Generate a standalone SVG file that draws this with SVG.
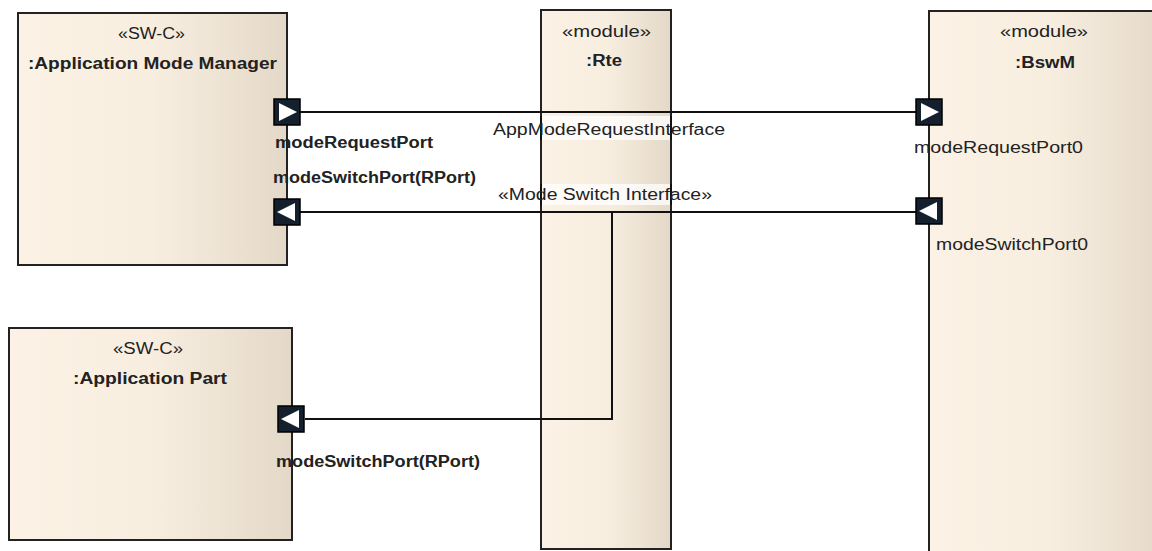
<svg xmlns="http://www.w3.org/2000/svg" width="1152" height="551" viewBox="0 0 1152 551">
  <defs>
    <linearGradient id="fill" x1="0" y1="0" x2="1" y2="0">
      <stop offset="0" stop-color="#fbf1e4"/>
      <stop offset="0.5" stop-color="#f8eee0"/>
      <stop offset="1" stop-color="#e4d9c8"/>
    </linearGradient>
    <g id="portR">
      <rect x="0" y="0" width="26" height="26" fill="#15202e" stroke="#000" stroke-width="1.5"/>
      <polygon points="5,4 5,22 23,13" fill="#fff"/>
    </g>
    <g id="portL">
      <rect x="0" y="0" width="26" height="26" fill="#15202e" stroke="#000" stroke-width="1.5"/>
      <polygon points="21,4 21,22 3,13" fill="#fff"/>
    </g>
  </defs>
  <style>
    .box { fill: url(#fill); stroke: #222; stroke-width: 2; }
    .t { font-family: "Liberation Sans", Arial, sans-serif; font-size: 16px; fill: #222; }
    .b { font-weight: bold; }
    .conn { fill: none; stroke: #111; stroke-width: 2; }
    .lblbg { fill: #fff; fill-opacity: 0.75; }
  </style>
  <rect width="1152" height="551" fill="#fff"/>

  <g id="rte">
    <rect class="box" x="541" y="10" width="130" height="539"/>
    <text class="t" x="562" y="37" textLength="89" lengthAdjust="spacingAndGlyphs">«module»</text>
    <text class="t b" x="586" y="66" textLength="36" lengthAdjust="spacingAndGlyphs">:Rte</text>
  </g>

  <g id="bswm">
    <rect class="box" x="929" y="11" width="240" height="560"/>
    <text class="t" x="1000" y="37" textLength="88" lengthAdjust="spacingAndGlyphs">«module»</text>
    <text class="t b" x="1015" y="68" textLength="60" lengthAdjust="spacingAndGlyphs">:BswM</text>
  </g>

  <g id="app-mode-manager">
    <rect class="box" x="18" y="13" width="269" height="252"/>
    <text class="t" x="118" y="39" textLength="67" lengthAdjust="spacingAndGlyphs">«SW-C»</text>
    <text class="t b" x="28" y="69" textLength="249" lengthAdjust="spacingAndGlyphs">:Application Mode Manager</text>
  </g>

  <g id="app-part">
    <rect class="box" x="9" y="328" width="283" height="212"/>
    <text class="t" x="113" y="354" textLength="70" lengthAdjust="spacingAndGlyphs">«SW-C»</text>
    <text class="t b" x="73" y="384" textLength="154" lengthAdjust="spacingAndGlyphs">:Application Part</text>
  </g>

  <g id="connectors">
    <line class="conn" x1="300" y1="112" x2="916" y2="112"/>
    <line class="conn" x1="300" y1="212" x2="916" y2="212"/>
    <polyline class="conn" points="612,212 612,419 305,419"/>
    <rect class="lblbg" x="490" y="116" width="238" height="24"/>
    <rect class="lblbg" x="495" y="184" width="220" height="21"/>
    <line class="conn" x1="541" y1="116" x2="541" y2="140"/>
    <line class="conn" x1="671" y1="116" x2="671" y2="140"/>
    <line class="conn" x1="541" y1="184" x2="541" y2="205"/>
    <line class="conn" x1="671" y1="184" x2="671" y2="205"/>
    <text class="t" x="493" y="135" textLength="232" lengthAdjust="spacingAndGlyphs">AppModeRequestInterface</text>
    <text class="t" x="498" y="200" textLength="214" lengthAdjust="spacingAndGlyphs">«Mode Switch Interface»</text>
  </g>

  <g id="port-amm-request">
    <use href="#portR" x="274" y="99"/>
    <text class="t b" x="275" y="148" textLength="158" lengthAdjust="spacingAndGlyphs">modeRequestPort</text>
  </g>
  <g id="port-amm-switch">
    <use href="#portL" x="274" y="199"/>
    <text class="t b" x="273" y="183" textLength="203" lengthAdjust="spacingAndGlyphs">modeSwitchPort(RPort)</text>
  </g>
  <g id="port-ap-switch">
    <use href="#portL" x="278" y="406"/>
    <text class="t b" x="276" y="467" textLength="204" lengthAdjust="spacingAndGlyphs">modeSwitchPort(RPort)</text>
  </g>
  <g id="port-bswm-request">
    <use href="#portR" x="916" y="99"/>
    <text class="t" x="914" y="153" textLength="169" lengthAdjust="spacingAndGlyphs">modeRequestPort0</text>
  </g>
  <g id="port-bswm-switch">
    <use href="#portL" x="916" y="198"/>
    <text class="t" x="936" y="250" textLength="152" lengthAdjust="spacingAndGlyphs">modeSwitchPort0</text>
  </g>
</svg>
